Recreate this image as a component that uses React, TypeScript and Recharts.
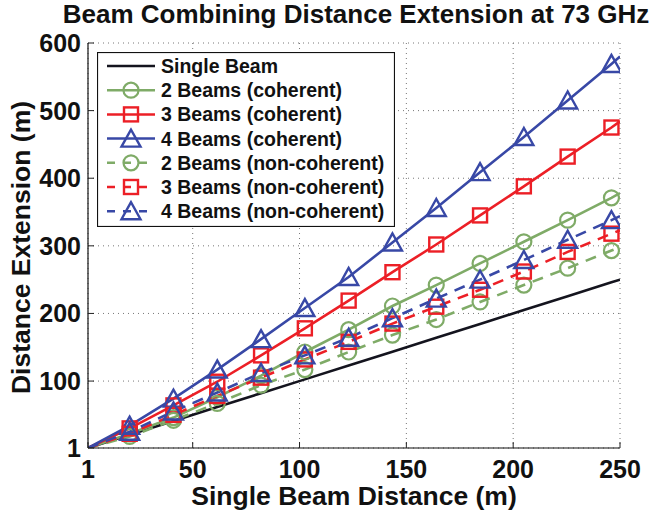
import React from 'react';
import { LineChart, Line, XAxis, YAxis, CartesianGrid, Legend } from 'recharts';

const FONT = '"Liberation Sans", Arial, Helvetica, sans-serif';

// single beam distance (m) at each sample
const DIST = [1, 20.5, 41, 61.5, 82, 102.5, 123, 143.5, 164, 184.5, 205, 225.5, 246, 250];
const SINGLE = [1, 20.5, 41, 61.5, 82, 102.5, 123, 143.5, 164, 184.5, 205, 225.5, 246, 250];
const COH2 = [1, 22, 46, 76, 108, 143, 176, 211, 242, 274, 306, 338, 371, 378];
const COH3 = [1, 30, 64, 99, 138, 178, 219, 261, 302, 345, 388, 432, 475, 484];
const COH4 = [1, 34, 74, 117, 162, 208, 254, 305, 356, 409, 461, 515, 569, 580];
const NC2 = [1, 18, 42, 67, 94, 117, 143, 168, 191, 217, 242, 267, 293, 298];
const NC3 = [1, 22, 50, 78, 105, 132, 158, 185, 210, 235, 262, 291, 318, 323];
const NC4 = [1, 25, 55, 83, 112, 138, 164, 193, 222, 250, 279, 309, 338, 344];

const X_TICKS = [1, 50, 100, 150, 200, 250];
const Y_TICKS = [1, 100, 200, 300, 400, 500, 600];

const GREEN = '#7fab67';
const RED = '#ec1f26';
const BLUE = '#3848a6';
const BLACK = '#14141e';

const SERIES = [
  { key: 'single', name: 'Single Beam', color: BLACK, shape: 'none', dashed: false },
  { key: 'coh2', name: '2 Beams (coherent)', color: GREEN, shape: 'circle', dashed: false },
  { key: 'coh3', name: '3 Beams (coherent)', color: RED, shape: 'square', dashed: false },
  { key: 'coh4', name: '4 Beams (coherent)', color: BLUE, shape: 'triangle', dashed: false },
  { key: 'nc2', name: '2 Beams (non-coherent)', color: GREEN, shape: 'circle', dashed: true },
  { key: 'nc3', name: '3 Beams (non-coherent)', color: RED, shape: 'square', dashed: true },
  { key: 'nc4', name: '4 Beams (non-coherent)', color: BLUE, shape: 'triangle', dashed: true },
];

const data = DIST.map((d, i) => ({
  x: d,
  single: SINGLE[i],
  coh2: COH2[i],
  coh3: COH3[i],
  coh4: COH4[i],
  nc2: NC2[i],
  nc3: NC3[i],
  nc4: NC4[i],
}));

const Marker = ({ cx, cy, shape, color }: any) => {
  if (shape === 'circle') {
    return <circle cx={cx} cy={cy} r={7.5} fill="none" stroke={color} strokeWidth={2.2} />;
  }
  if (shape === 'square') {
    return <rect x={cx - 7} y={cy - 7} width={14} height={14} fill="none" stroke={color} strokeWidth={2.4} />;
  }
  if (shape === 'triangle') {
    return (
      <polygon
        points={`${cx},${cy - 9} ${cx - 9.5},${cy + 8} ${cx + 9.5},${cy + 8}`}
        fill="none"
        stroke={color}
        strokeWidth={2.4}
      />
    );
  }
  return null;
};

const renderDot = (shape: string, color: string) => (props: any) => {
  const { cx, cy, index } = props;
  // no marker at the first and last samples
  if (index === 0 || index === DIST.length - 1 || shape === 'none') return <g key={`d-${index}`} />;
  return (
    <g key={`d-${index}`}>
      <Marker cx={cx} cy={cy} shape={shape} color={color} />
    </g>
  );
};

const tickText = { fontFamily: FONT, fontSize: 25, fontWeight: 700, fill: '#111' };
const labelText = { fontFamily: FONT, fontSize: 26.5, fontWeight: 700, fill: '#111' };

const BottomTick = ({ x, y, payload }: any) => (
  <g>
    <line x1={x} y1={y} x2={x} y2={y - 6} stroke="#222" />
    <text x={x} y={y + 30} textAnchor="middle" style={tickText}>
      {payload.value}
    </text>
  </g>
);

const LeftTick = ({ x, y, payload }: any) => (
  <g>
    <line x1={x} y1={y} x2={x + 6} y2={y} stroke="#222" />
    <text x={x - 7} y={y + 9} textAnchor="end" style={tickText}>
      {payload.value}
    </text>
  </g>
);

const TopTick = ({ x, y }: any) => <line x1={x} y1={y} x2={x} y2={y + 6} stroke="#222" />;
const RightTick = ({ x, y }: any) => <line x1={x} y1={y} x2={x - 6} y2={y} stroke="#222" />;

const LegendBox = () => (
  <svg width={298} height={175} style={{ display: 'block' }}>
    <rect x={0.5} y={0.5} width={297} height={174} fill="#fff" stroke="#111" strokeWidth={1.2} />
    {SERIES.map((s, i) => {
      const cy = 14 + i * 24.2;
      return (
        <g key={s.key}>
          <line
            x1={10}
            y1={cy}
            x2={58}
            y2={cy}
            stroke={s.color}
            strokeWidth={2.5}
            strokeDasharray={s.dashed ? '8 8' : undefined}
          />
          <Marker cx={34} cy={cy} shape={s.shape} color={s.color} />
          <text x={64} y={cy + 7} style={{ fontFamily: FONT, fontSize: 19.5, fontWeight: 700, fill: '#111' }}>
            {s.name}
          </text>
        </g>
      );
    })}
  </svg>
);

export default function App() {
  return (
    <div style={{ position: 'absolute', left: 0, top: 0, width: 652, height: 514, background: '#fff' }}>
      <div
        style={{
          position: 'absolute',
          left: 0,
          top: 0,
          width: 712,
          textAlign: 'center',
          fontFamily: FONT,
          fontSize: 26,
          fontWeight: 700,
          color: '#111',
          lineHeight: '28px',
          whiteSpace: 'nowrap',
          zIndex: 2,
        }}
      >
        Beam Combining Distance Extension at 73 GHz
      </div>
      <LineChart width={652} height={514} data={data} margin={{ top: 43, right: 32, left: 0, bottom: 0 }}>
        <CartesianGrid stroke="#777" strokeDasharray="1 4" strokeWidth={1} />
        <XAxis
          dataKey="x"
          type="number"
          domain={[1, 250]}
          ticks={X_TICKS}
          allowDataOverflow
          height={66}
          tickSize={0}
          tickMargin={0}
          tickLine={false}
          axisLine={{ stroke: '#111', strokeWidth: 1.2 }}
          tick={<BottomTick />}
          interval={0}
          label={{
            position: 'insideBottom',
            content: (p: any) => (
              <text
                x={p.viewBox.x + p.viewBox.width / 2}
                y={p.viewBox.y + 57}
                textAnchor="middle"
                style={labelText}
              >
                Single Beam Distance (m)
              </text>
            ),
          }}
        />
        <XAxis
          xAxisId="top"
          orientation="top"
          dataKey="x"
          type="number"
          domain={[1, 250]}
          ticks={X_TICKS}
          allowDataOverflow
          height={0}
          tickSize={0}
          tickMargin={0}
          tickLine={false}
          axisLine={{ stroke: '#111', strokeWidth: 1.2 }}
          tick={<TopTick />}
          interval={0}
        />
        <YAxis
          type="number"
          domain={[1, 600]}
          ticks={Y_TICKS}
          allowDataOverflow
          width={88}
          tickSize={0}
          tickMargin={0}
          tickLine={false}
          axisLine={{ stroke: '#111', strokeWidth: 1.2 }}
          tick={<LeftTick />}
          interval={0}
          label={{
            position: 'insideLeft',
            content: (p: any) => {
              const cx = p.viewBox.x + 21;
              const cy = p.viewBox.y + p.viewBox.height / 2 + 2;
              return (
                <text
                  x={cx}
                  y={cy}
                  transform={`rotate(-90 ${cx} ${cy})`}
                  textAnchor="middle"
                  dominantBaseline="central"
                  style={labelText}
                >
                  Distance Extension (m)
                </text>
              );
            },
          }}
        />
        <YAxis
          yAxisId="right"
          orientation="right"
          type="number"
          domain={[1, 600]}
          ticks={Y_TICKS}
          allowDataOverflow
          width={0}
          tickSize={0}
          tickMargin={0}
          tickLine={false}
          axisLine={{ stroke: '#111', strokeWidth: 1.2 }}
          tick={<RightTick />}
          interval={0}
        />
        {SERIES.map((s) => (
          <Line
            key={s.key}
            type="linear"
            dataKey={s.key}
            name={s.name}
            stroke={s.color}
            strokeWidth={2.6}
            strokeDasharray={s.dashed ? '11 8' : undefined}
            dot={renderDot(s.shape, s.color)}
            activeDot={false}
            isAnimationActive={false}
          />
        ))}
        <Legend
          layout="vertical"
          align="center"
          verticalAlign="middle"
          content={() => <LegendBox />}
          wrapperStyle={{ left: 97, top: 52, width: 298, height: 175 }}
        />
      </LineChart>
    </div>
  );
}
